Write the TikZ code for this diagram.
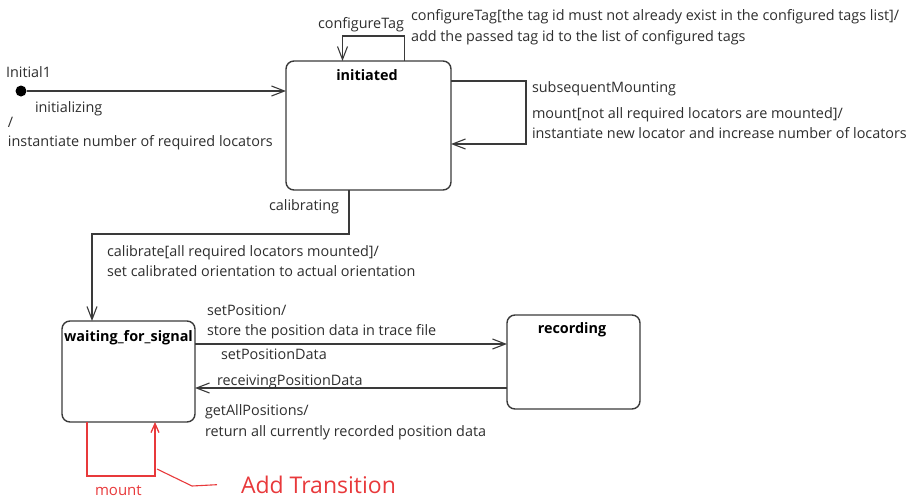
\documentclass[tikz,border=0pt]{standalone}
\usepackage{fontspec}
\setmainfont{Open Sans}
\usetikzlibrary{arrows.meta}
\definecolor{ln}{HTML}{3A3A3A}
\definecolor{tx}{HTML}{2E2E2E}
\definecolor{rd}{HTML}{E8393B}
\begin{document}
\begin{tikzpicture}[x=1pt,y=-1pt,
  every node/.style={inner sep=0pt, outer sep=0pt},
  lbl/.style={anchor=base west, text=tx, font=\fontsize{14.4}{16}\selectfont},
  ttl/.style={anchor=base, text=black, font=\fontsize{14.4}{16}\selectfont\bfseries},
  stbox/.style={draw=ln, line width=1.4pt, rounded corners=8pt},
  tr/.style={draw=ln, line width=1.1pt, -{Straight Barb[length=13pt,width=10pt,line width=1.1pt]}},
  rtr/.style={draw=rd, line width=1.3pt, -{Straight Barb[length=9pt,width=8pt,line width=1.3pt]}},
]
\useasboundingbox (0,0) rectangle (910,499);

% states
\node[circle, fill=black, minimum size=11pt] (init) at (21,91) {};
\node[stbox, minimum width=165pt, minimum height=129pt] (ini) at (368.5,125.5) {};
\node[stbox, minimum width=133pt, minimum height=101pt] (wait) at (128.5,371.5) {};
\node[stbox, minimum width=133pt, minimum height=94pt] (rec) at (573.5,362) {};

\node[ttl] (iniT) at (367,80) {initiated};
\node[ttl] (waitT) at (128.5,341) {waiting\_for\_signal};
\node[ttl] (recT) at (572,333.3) {recording};

% transitions
\draw[tr] (init) -- (init -| ini.west);
\draw[tr] ([xshift=36pt]ini.north) -- ++(0,-25) -- ++(-62,0) -- ++(0,25);
\draw[tr] ([yshift=-20pt]ini.north east) -- ++(75,0) -- ++(0,63) -- ++(-75,0);
\draw[tr] ([xshift=-19.5pt]ini.south) -- ++(0,44) -| ([xshift=-36.5pt]wait.north);
\coordinate (sp) at ([yshift=27.5pt]wait.east);
\draw[tr] (sp) -- (sp -| rec.west);
\coordinate (rp) at ([yshift=-26pt]rec.west);
\draw[tr] (rp) -- (rp -| wait.east);
\draw[rtr] ([xshift=-41.5pt]wait.south) -- ++(0,54) -| ([xshift=26.5pt]wait.south);

% labels
\node[lbl] (l1) at (6,77.3) {Initial1};
\node[lbl] (l2) at (35,112.3) {initializing};
\node[lbl] (l3) at (8,127) {/};
\node[lbl] (l4) at (8,146.7) {instantiate number of required locators};
\node[lbl] (l5) at (318,28.3) {configureTag};
\node[lbl] (l6) at (411,20.7) {configureTag[the tag id must not already exist in the configured tags list]/};
\node[lbl] (l7) at (411,41) {add the passed tag id to the list of configured tags};
\node[lbl] (l8) at (532,92.3) {subsequentMounting};
\node[lbl] (l9) at (532,118.3) {mount[not all required locators are mounted]/};
\node[lbl] (l10) at (532,138.3) {instantiate new locator and increase number of locators};
\node[lbl] (l11) at (269,210) {calibrating};
\node[lbl] (l12) at (107,256.7) {calibrate[all required locators mounted]/};
\node[lbl] (l13) at (107,276.7) {set calibrated orientation to actual orientation};
\node[lbl] (l14) at (207,315) {setPosition/};
\node[lbl] (l15) at (207,335.7) {store the position data in trace file};
\node[lbl] (l16) at (221,359) {setPositionData};
\node[lbl] (l17) at (217,385) {receivingPositionData};
\node[lbl] (l18) at (205,415.7) {getAllPositions/};
\node[lbl] (l19) at (205,436.7) {return all currently recorded position data};
\node[lbl, text=rd, font=\fontsize{15}{17}\selectfont] (mnt) at (95,495) {mount};
\node[anchor=base west, text=rd, font=\fontsize{23}{26}\selectfont] (addT) at (241,493.3) {Add Transition};
\coordinate (cc) at (157,469);
\draw[draw=rd, line width=1.1pt] (cc) -- (192,486) -- ([xshift=-24pt]addT.west);
\end{tikzpicture}
\end{document}
